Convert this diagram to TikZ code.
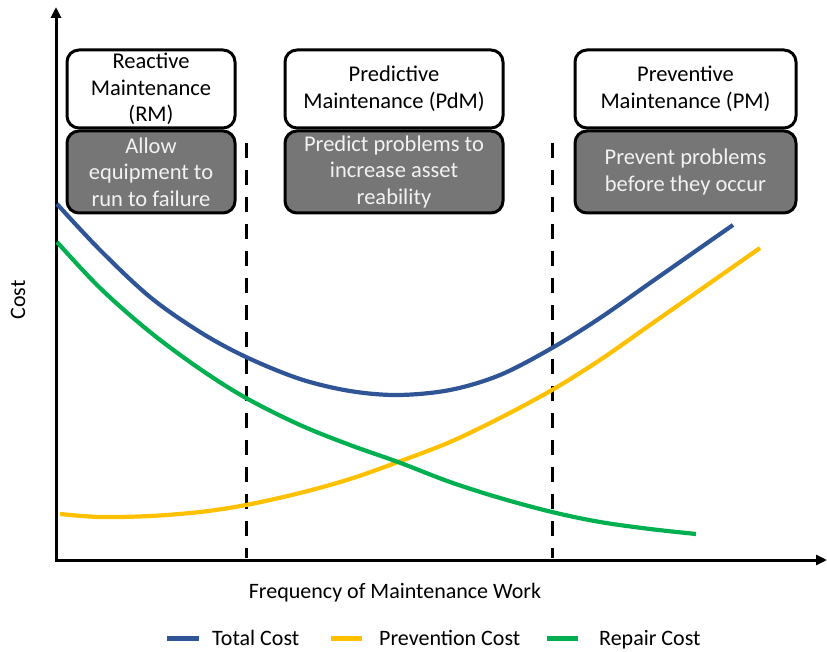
\documentclass[tikz,border=0pt]{standalone}
\usepackage{fontspec}
\setmainfont{Carlito}
\usetikzlibrary{arrows.meta}
\definecolor{tblue}{HTML}{2F5597}
\definecolor{tyellow}{HTML}{FFC000}
\definecolor{tgreen}{HTML}{00B050}
\definecolor{boxgray}{HTML}{767676}
\definecolor{boxtext}{HTML}{F2F2F2}
\begin{document}
\begin{tikzpicture}[x=1pt,y=-1pt,
  lbl/.style={font=\fontsize{22}{26}\selectfont, align=center, inner sep=0pt},
  headbox/.style={draw=black, line width=3pt, rounded corners=12pt, fill=white,
    minimum height=78pt, font=\fontsize{22.5}{26.5}\selectfont, align=center, inner sep=0pt},
  descbox/.style={draw=black, line width=3pt, rounded corners=12pt, fill=boxgray,
    text=boxtext, minimum height=82pt, font=\fontsize{22.5}{26.5}\selectfont, align=center, inner sep=0pt},
  axis/.style={line width=3pt, -{Triangle[length=11pt,width=10pt]}},
  divider/.style={line width=3pt, dash pattern=on 15pt off 12pt},
  curve/.style={line width=4.2pt, smooth, tension=0.55},
  legline/.style={line width=5pt}
]
\useasboundingbox (0,0) rectangle (827,652);

% axes
\coordinate (O) at (56,560);
\coordinate (Ytop) at (56,7);
\coordinate (Xend) at (827,560);
\draw[axis] (O) -- (Ytop);
\draw[axis] ([xshift=-1.5pt]O) -- (Xend);

% boxes
\node[headbox, minimum width=168pt] (rm) at (151,89) {Reactive\\Maintenance\\(RM)};
\node[descbox, minimum width=168pt] (rmd) at (151,172) {Allow\\equipment to\\run to failure};
\node[headbox, minimum width=218pt] (pdm) at (394,89) {Predictive\\Maintenance (PdM)};
\node[descbox, minimum width=218pt] (pdmd) at (394,172) {Predict problems to\\increase asset\\reability};
\node[headbox, minimum width=221pt] (pm) at (685.5,89) {Preventive\\Maintenance (PM)};
\node[descbox, minimum width=221pt] (pmd) at (685.5,172) {Prevent problems\\before they occur};

% dividers
\coordinate (d1t) at (246,143);
\coordinate (d1b) at (246,558);
\coordinate (d2t) at (552,143);
\coordinate (d2b) at (552,558);
\draw[divider] (d1t) -- (d1b);
\draw[divider] (d2t) -- (d2b);

% curves
\draw[curve, tyellow] plot coordinates {(60,514) (100,517) (150,516) (200,512) (246,505) (300,493) (350,479) (398,462) (450,442) (500,418) (552,390) (600,360) (650,325) (700,290) (760,248)};
\draw[curve, tgreen] plot coordinates {(57,242) (100,288) (150,332) (200,369) (246,398) (300,425) (350,445) (398,462) (450,482) (500,498) (552,512) (600,522) (650,529) (696,534)};
\draw[curve, tblue] plot coordinates {(57,204) (100,250) (150,297) (200,332) (246,357) (300,379) (350,391) (398,395) (450,390) (500,375) (552,348) (600,318) (650,283) (700,248) (733,225)};

% axis labels
\node[lbl, rotate=90] (ylab) at (18,300) {Cost};
\node[lbl, anchor=base] (xlab) at (395,598) {Frequency of Maintenance Work};

% legend
\coordinate (l1a) at (167,638); \coordinate (l1b) at (199,638);
\coordinate (l2a) at (331,638); \coordinate (l2b) at (362,638);
\coordinate (l3a) at (547,638); \coordinate (l3b) at (578,638);
\draw[legline, tblue] (l1a) -- (l1b);
\draw[legline, tyellow] (l2a) -- (l2b);
\draw[legline, tgreen] (l3a) -- (l3b);
\node[lbl, anchor=base west] (t1) at (212,645) {Total Cost};
\node[lbl, anchor=base west] (t2) at (379,645) {Prevention Cost};
\node[lbl, anchor=base west] (t3) at (599,645) {Repair Cost};
\end{tikzpicture}
\end{document}
